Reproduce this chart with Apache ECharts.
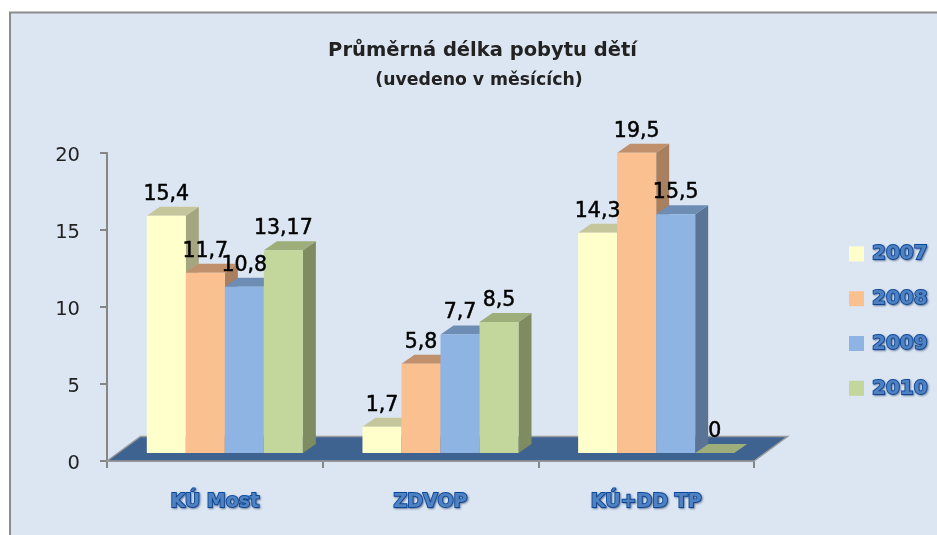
<!DOCTYPE html>
<html>
<head>
<meta charset="utf-8">
<style>html,body{margin:0;padding:0;background:#fff}#c{width:937px;height:535px;filter:blur(0.4px)}</style>
<script src="https://cdn.jsdelivr.net/npm/echarts@6/dist/echarts.min.js"></script>
</head>
<body>
<div id="c"></div>
<script>
const titleLine = 'Průměrná délka pobytu dětí';
const subtitleLine = '(uvedeno v měsících)';
const categories = ['KÚ Most', 'ZDVOP', 'KÚ+DD TP'];
const years = ['2007', '2008', '2009', '2010'];
const values2007 = [15.4, 1.7, 14.3];
const values2008 = [11.7, 5.8, 19.5];
const values2009 = [10.8, 7.7, 15.5];
const values2010 = [13.17, 8.5, 0];
const yTicks = { min: 0, max: 20, interval: 5 };

const allValues = [values2007, values2008, values2009, values2010];
const palette = [
  { front: '#ffffcc', top: '#c6c69d', side: '#a5a57f' },
  { front: '#fbc08f', top: '#c0906c', side: '#a87f5f' },
  { front: '#8eb4e3', top: '#6d8db5', side: '#5a7496' },
  { front: '#c3d69b', top: '#9dae7b', side: '#7f8b60' }
];
const labelFont = 'DejaVu Sans';
const blueText = {
  fontFamily: labelFont, fontWeight: 'bold', color: '#4f82c2',
  textBorderColor: '#0b4aa0', textBorderWidth: 1.8,
  textShadowColor: 'rgba(30,60,110,0.5)', textShadowBlur: 2, textShadowOffsetX: 1, textShadowOffsetY: 1
};

// depth (screen pixels) of a bar and of the floor
const barDx = 13, barDy = 9, floorDx = 33.5, floorDy = 24.5;
const seatDx = 10, seatDy = 8, barFrac = 39 / 215.6;

function barRender(si) {
  return function (params, api) {
    const cat = api.value(0), val = api.value(1);
    const bandW = api.size([1, 0])[0];
    const w = bandW * barFrac;
    const c = api.coord([cat, val]), b = api.coord([cat, 0]);
    const x0 = c[0] + seatDx + (si - 2) * w;
    const x1 = x0 + w;
    const yT = c[1] - seatDy, yB = b[1] - seatDy;
    const pal = palette[si];
    const poly = (pts, fill) => ({ type: 'polygon', shape: { points: pts }, style: { fill: fill } });
    const children = [
      poly([[x1, yT], [x1 + barDx, yT - barDy], [x1 + barDx, yB - barDy], [x1, yB]], pal.side),
      poly([[x0, yT], [x0 + barDx, yT - barDy], [x1 + barDx, yT - barDy], [x1, yT]], pal.top)
    ];
    if (yB > yT) children.push({ type: 'rect', shape: { x: x0, y: yT, width: w, height: yB - yT }, style: { fill: pal.front } });
    children.push({
      type: 'text', z2: 100,
      style: {
        x: (x0 + x1) / 2, y: yT - 21.5, text: String(val).replace('.', ','),
        align: 'center', verticalAlign: 'middle',
        font: '20.5px "' + labelFont + '"', fill: '#000', stroke: '#000', lineWidth: 0.5
      }
    });
    return { type: 'group', children: children };
  };
}

function floorRender(params, api) {
  const bandW = api.size([1, 0])[0];
  const l = api.coord([0, 0]), r = api.coord([categories.length - 1, 0]);
  const xL = l[0] - bandW / 2, xR = r[0] + bandW / 2, y = l[1];
  return {
    type: 'group', children: [{
      type: 'polygon',
      shape: { points: [[xL, y], [xL + floorDx, y - floorDy], [xR + floorDx, y - floorDy], [xR, y]] },
      style: { fill: '#3f6390', stroke: '#9a9a9a', lineWidth: 1.5 }
    }]
  };
}

const series = [{
  type: 'custom', name: 'floor', silent: true, z: 1,
  renderItem: floorRender, data: [[0, 0]], encode: { x: 0, y: 1 }
}];
years.forEach((y, si) => {
  series.push({
    type: 'custom', name: y, z: 2,
    itemStyle: { color: palette[si].front },
    renderItem: barRender(si),
    encode: { x: 0, y: 1 },
    data: allValues[si].map((v, i) => [i, v])
  });
});

const chart = echarts.init(document.getElementById('c'));
chart.setOption({
  animation: false,
  backgroundColor: '#ffffff',
  graphic: [{
    type: 'rect', z: -10, silent: true,
    shape: { x: 10, y: 12.5, width: 940, height: 540 },
    style: { fill: '#dce6f2', stroke: '#8c8c8c', lineWidth: 2 }
  }],
  title: [
    { text: titleLine, left: 477.5, top: 36, textAlign: 'center',
      textStyle: { fontFamily: labelFont, fontWeight: 'bold', fontSize: 19.5, color: '#222' } },
    { text: subtitleLine, left: 474, top: 67, textAlign: 'center',
      textStyle: { fontFamily: labelFont, fontWeight: 'bold', fontSize: 17.3, color: '#222' } }
  ],
  grid: { left: 107, right: 183, top: 153, bottom: 74, containLabel: false },
  legend: {
    show: true, data: years, orient: 'vertical', left: 844, top: 238, icon: 'rect',
    itemWidth: 15, itemHeight: 15, itemGap: 23, selectedMode: false,
    textStyle: Object.assign({ fontSize: 20, padding: [0, 0, 0, 3] }, blueText)
  },
  xAxis: {
    type: 'category', data: categories,
    axisLine: { lineStyle: { color: '#868686', width: 2 } },
    axisTick: { show: true, length: 7, lineStyle: { color: '#868686', width: 2 } },
    axisLabel: Object.assign({ fontSize: 19, margin: 32 }, blueText)
  },
  yAxis: {
    type: 'value', min: yTicks.min, max: yTicks.max, interval: yTicks.interval,
    splitLine: { show: false },
    axisLine: { show: true, lineStyle: { color: '#868686', width: 2 } },
    axisTick: { show: true, length: 7, lineStyle: { color: '#868686', width: 2 } },
    axisLabel: {
      margin: 27,
      formatter: '{t|{value}}',
      rich: { t: { fontFamily: labelFont, fontSize: 19.5, color: '#222', padding: [5, 0, 0, 0] } }
    }
  },
  series: series
});
</script>
</body>
</html>
